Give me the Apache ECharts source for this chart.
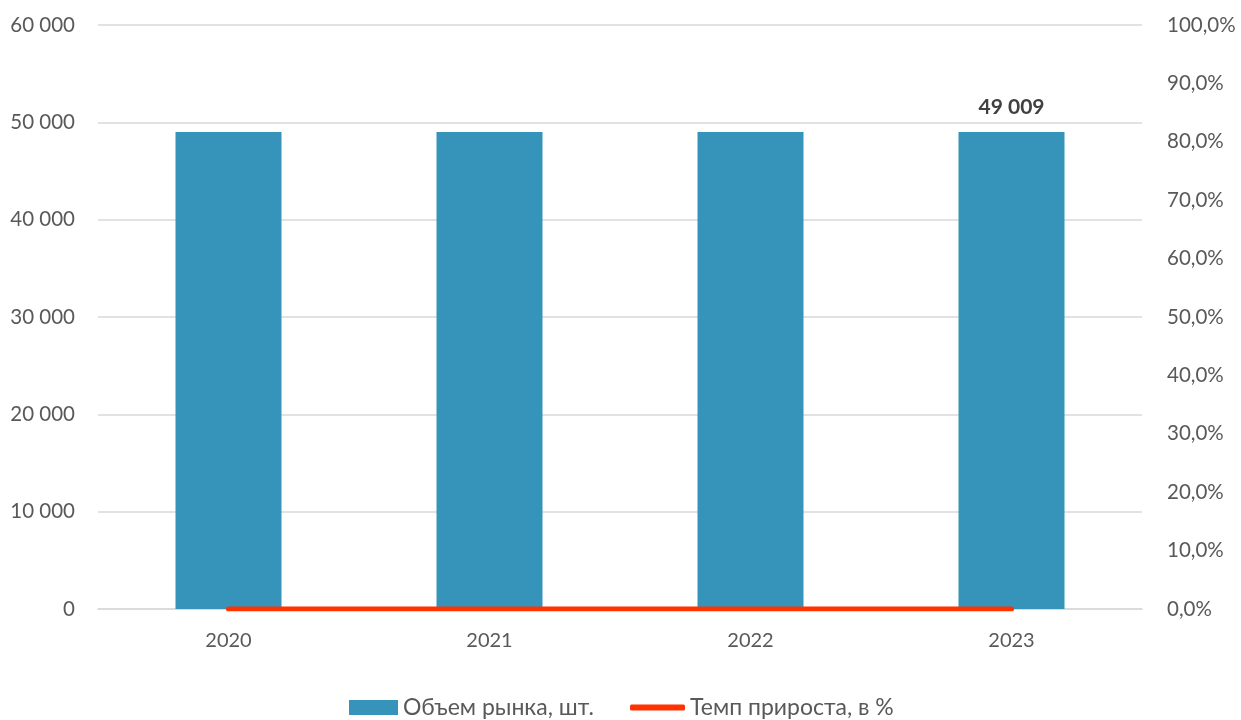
<!DOCTYPE html>
<html><head><meta charset="utf-8">
<script src="https://cdn.jsdelivr.net/npm/echarts@6/dist/echarts.min.js"></script>
<style>html,body{margin:0;padding:0;background:#fff}#c{width:1241px;height:720px}</style>
</head><body><div id="c"></div>
<script>
const categories = ['2020', '2021', '2022', '2023'];
const marketVolume = [49009, 49009, 49009, 49009];
const growthRate = [0, 0, 0, 0];
const seriesNames = ['Объем рынка, шт.', 'Темп прироста, в %'];

const FONT = 'Lato, "Open Sans", sans-serif';
const legendText = {fontSize: 23, color: '#595959', fontFamily: FONT};
const chart = echarts.init(document.getElementById('c'), null, {renderer: 'canvas'});
chart.setOption({
  animation: false,
  textStyle: {fontFamily: FONT},
  grid: {left: 98, right: 99, top: 25, bottom: 111, containLabel: false},
  legend: [
    {left: 349, top: 696, padding: 0, itemWidth: 49, itemHeight: 15, textStyle: legendText,
     data: [{name: seriesNames[0], icon: 'rect'}]},
    {left: 630, top: 696, padding: 0, itemWidth: 55, itemHeight: 6, textStyle: legendText,
     data: [{name: seriesNames[1], icon: 'roundRect'}]}
  ],
  xAxis: {
    type: 'category', data: categories,
    axisLine: {lineStyle: {color: '#d9d9d9', width: 1.5}},
    axisTick: {show: false},
    axisLabel: {fontSize: 20, color: '#595959', margin: 22, fontFamily: FONT}
  },
  yAxis: [
    {type: 'value', min: 0, max: 60000, interval: 10000,
     axisLine: {show: false}, axisTick: {show: false},
     splitLine: {lineStyle: {color: '#d9d9d9', width: 1.5}},
     axisLabel: {fontSize: 20.5, color: '#595959', margin: 23, fontFamily: FONT,
       formatter: v => String(v).replace(/\B(?=(\d{3})+(?!\d))/g, ' ')}},
    {type: 'value', min: 0, max: 100, interval: 10, position: 'right',
     axisLine: {show: false}, axisTick: {show: false}, splitLine: {show: false},
     axisLabel: {fontSize: 20.5, color: '#595959', margin: 25, fontFamily: FONT,
       formatter: v => v.toFixed(1).replace('.', ',') + '%'}}
  ],
  series: [
    {name: seriesNames[0], type: 'bar', data: marketVolume.map((v, i) => ({
        value: v,
        label: {show: i === marketVolume.length - 1, position: 'top', distance: 14,
          fontSize: 21, fontWeight: 'bold', color: '#404040', fontFamily: FONT,
          formatter: p => String(p.value).replace(/\B(?=(\d{3})+(?!\d))/g, ' ')}
      })),
     barWidth: 106, itemStyle: {color: '#3694BA'}},
    {name: seriesNames[1], type: 'line', yAxisIndex: 1, data: growthRate,
     symbol: 'none', lineStyle: {color: '#FF3300', width: 5, cap: 'round'},
     itemStyle: {color: '#FF3300'}}
  ]
});
</script></body></html>
